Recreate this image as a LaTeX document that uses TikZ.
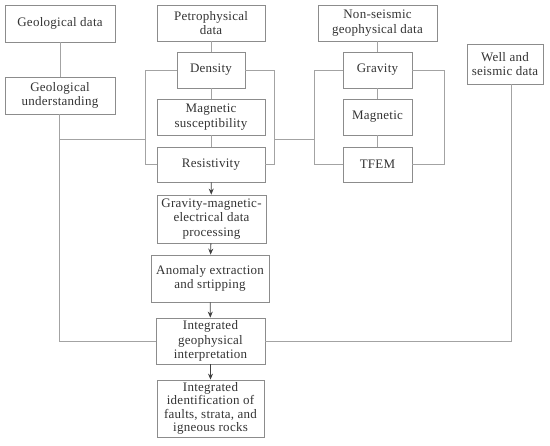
\documentclass[tikz,border=0pt]{standalone}
\usepackage{fontspec}
\setmainfont[LetterSpace=2]{Liberation Serif}
\usetikzlibrary{arrows.meta}
\definecolor{boxline}{HTML}{8C8C8C}
\definecolor{linkline}{HTML}{A3A3A3}
\definecolor{txt}{HTML}{333333}

\begin{document}
\begin{tikzpicture}[x=1pt, y=-1pt,
  box/.style={draw=boxline, line width=.8pt, inner sep=0pt, align=center,
    text=txt, font=\fontsize{13}{14.5}\selectfont},
  link/.style={draw=linkline, line width=.8pt},
  flow/.style={link, -{Stealth[length=6pt,width=5pt]}, color=black!75}]

\useasboundingbox (0,0) rectangle (550,446);

% data sources
\node[box, minimum width=110pt, minimum height=37pt] (geo) at (60,23.5) {Geological data};
\node[box, minimum width=110pt, minimum height=37pt] (geound) at (60,95.5) {Geological\\understanding};
\node[box, minimum width=108pt, minimum height=36pt] (petro) at (211,23) {Petrophysical\\data};
\node[box, minimum width=119pt, minimum height=36pt] (nonseis) at (377.5,23) {Non-seismic\\geophysical data};
\node[box, minimum width=76pt, minimum height=40pt] (well) at (505,64) {Well and\\seismic data};

% petrophysical parameters
\node[box, minimum width=68pt, minimum height=36pt] (dens) at (211,70) {Density};
\node[box, minimum width=108pt, minimum height=36pt] (magsus) at (211,117) {Magnetic\\susceptibility};
\node[box, minimum width=108pt, minimum height=35pt] (res) at (211,164.5) {Resistivity};

% non-seismic methods
\node[box, minimum width=69pt, minimum height=36pt] (grav) at (377.5,70) {Gravity};
\node[box, minimum width=69pt, minimum height=36pt] (mag) at (377.5,117) {Magnetic};
\node[box, minimum width=69pt, minimum height=35pt] (tfem) at (377.5,164.5) {TFEM};

% main flow
\node[box, minimum width=109pt, minimum height=48pt] (gmep) at (211.5,219) {Gravity-magnetic-\\electrical data\\processing};
\node[box, minimum width=118pt, minimum height=47pt] (anom) at (210,278.5) {Anomaly extraction\\and srtipping};
\node[box, minimum width=109pt, minimum height=46pt] (integ) at (210.5,341) {Integrated\\geophysical\\interpretation};
\node[box, minimum width=107pt, minimum height=57pt, font=\fontsize{13}{13.4}\selectfont] (ident) at (210.5,408.5) {Integrated\\identification of\\faults, strata, and\\igneous rocks};

% junction points
\coordinate (lbr) at (145,139);
\coordinate (rbr) at (274,139);
\coordinate (lbr2) at (314,139);
\coordinate (rbr2) at (444,139);
\coordinate (geoj) at (59,139);
\coordinate (wellj) at (511,64);

% stacks
\draw[link] (geo) -- (geound);
\draw[link] (petro) -- (dens);
\draw[link] (dens) -- (magsus);
\draw[link] (magsus) -- (res);
\draw[link] (nonseis) -- (grav);
\draw[link] (grav) -- (mag);
\draw[link] (mag) -- (tfem);

% brackets
\draw[link] (dens.west) -- (dens.west -| lbr) |- (res.west);
\draw[link] (dens.east) -- (dens.east -| rbr) |- (res.east);
\draw[link] (grav.west) -- (grav.west -| lbr2) |- (tfem.west);
\draw[link] (grav.east) -- (grav.east -| rbr2) |- (tfem.east);
\draw[link] (geoj) -- (lbr);
\draw[link] (rbr) -- (lbr2);

% side inputs to interpretation
\draw[link] (geound.south -| geoj) |- (integ.west);
\draw[link] (well.south -| wellj) |- (integ.east);

% arrows
\draw[flow] (res) -- (gmep);
\draw[flow] (gmep) -- (anom);
\draw[flow] (anom) -- (integ);
\draw[flow] (integ) -- (ident);

\end{tikzpicture}
\end{document}
